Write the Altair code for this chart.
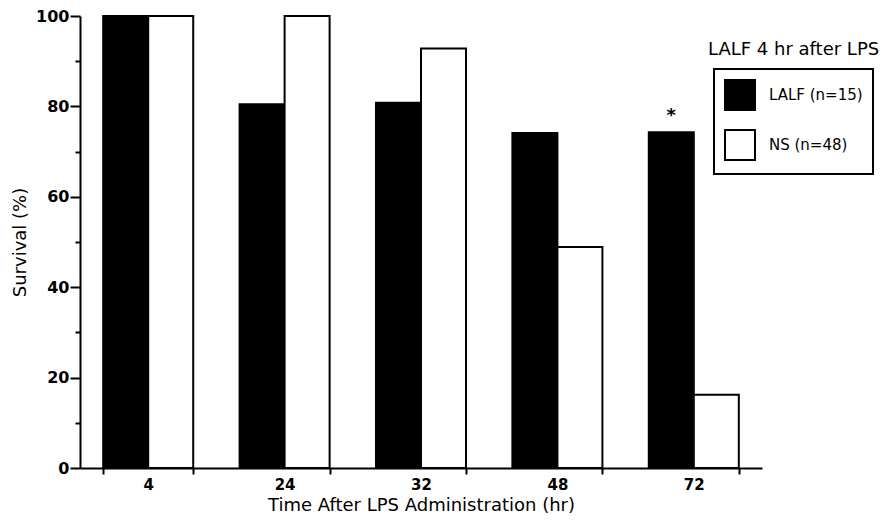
import altair as alt
import pandas as pd

times = ["4", "24", "32", "48", "72"]
groups = ["LALF (n=15)", "NS (n=48)"]
lalf = [100, 80.5, 80.8, 74.1, 74.3]
ns = [100, 100, 92.8, 48.9, 16.2]
star_time = "72"
star_group = "LALF (n=15)"
star_value = 74.3

rows = []
for t, a, b in zip(times, lalf, ns):
    rows.append({"time": t, "group": groups[0], "survival": a})
    rows.append({"time": t, "group": groups[1], "survival": b})
df = pd.DataFrame(rows)
star_df = pd.DataFrame([{"time": star_time, "group": star_group, "survival": star_value, "label": "*"}])
title_df = pd.DataFrame([{"label": "LALF 4 hr after LPS"}])

FONT = "DejaVu Sans"

x_enc = alt.X(
    "time:N", sort=times,
    scale=alt.Scale(paddingInner=0.34, paddingOuter=0.17),
    axis=alt.Axis(title="Time After LPS Administration (hr)", labelAngle=0, tickBand="extent",
                  tickSize=6, tickWidth=2, tickColor="black", domainColor="black", domainWidth=2,
                  labelFont=FONT, labelFontSize=15, labelFontWeight="bold", labelColor="black",
                  labelPadding=3, titleFont=FONT, titleFontSize=18, titleFontWeight="normal",
                  titleColor="black", titlePadding=4),
)
xo_enc = alt.XOffset("group:N", sort=groups, scale=alt.Scale(paddingInner=0, paddingOuter=0))
y_enc = alt.Y(
    "survival:Q",
    scale=alt.Scale(domain=[0, 100], nice=False),
    axis=alt.Axis(title="Survival (%)", values=[0, 10, 20, 30, 40, 50, 60, 70, 80, 90, 100],
                  labelExpr="datum.value % 20 == 0 ? datum.label : ''",
                  tickSize={"condition": {"test": "datum.value % 20 == 0", "value": 10}, "value": 5},
                  tickWidth=2, tickColor="black", domainColor="black", domainWidth=2, grid=False,
                  labelFont=FONT, labelFontSize=16, labelFontWeight="bold", labelColor="black",
                  labelPadding=1, titleFont=FONT, titleFontSize=18, titleFontWeight="normal",
                  titleColor="black", titlePadding=6),
)

bars = alt.Chart(df).mark_bar(stroke="black", strokeWidth=2).encode(
    x=x_enc,
    xOffset=xo_enc,
    y=y_enc,
    color=alt.Color(
        "group:N", sort=groups,
        scale=alt.Scale(domain=groups, range=["black", "white"]),
        legend=alt.Legend(
            title=None, orient="none", legendX=634, legendY=53, strokeColor="black",
            padding=10, symbolType="square", symbolSize=900, symbolStrokeColor="black",
            symbolStrokeWidth=2, labelFont=FONT, labelFontSize=15, labelColor="black",
            labelOffset=13, rowPadding=12,
        ),
    ),
)

star = alt.Chart(star_df).mark_text(fontSize=18, fontWeight="bold", dy=-16, color="black", font=FONT).encode(
    x=alt.X("time:N", sort=times),
    xOffset=alt.XOffset("group:N", sort=groups),
    y="survival:Q",
    text="label:N",
)

title = alt.Chart(title_df).mark_text(align="left", baseline="middle", fontSize=18, color="black", font=FONT).encode(
    x=alt.value(628), y=alt.value(34), text="label:N"
)

chart = alt.layer(bars, star, title).properties(
    width=682, height=452,
    autosize=alt.AutoSizeParams(type="none"),
    padding={"left": 72, "top": 8, "right": 124, "bottom": 50},
).configure_view(stroke=None).configure_legend(strokeWidth=2)

chart.save("out.html", embed_options={"renderer": "svg", "actions": False})
